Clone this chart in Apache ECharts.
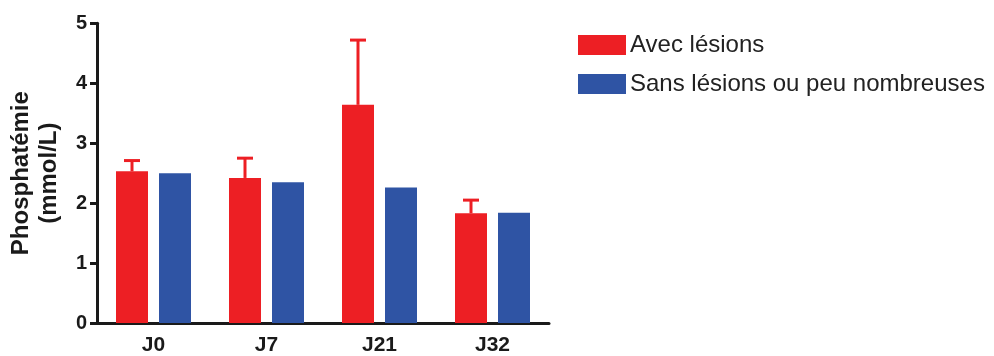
<!DOCTYPE html>
<html>
<head>
<meta charset="utf-8">
<script src="https://cdn.jsdelivr.net/npm/echarts@6/dist/echarts.min.js"></script>
<style>html,body{margin:0;padding:0;background:#fff}#c{width:994px;height:356px}</style>
</head>
<body>
<div id="c"></div>
<script>
const categories = ['J0', 'J7', 'J21', 'J32'];
const seriesNames = ['Avec lésions', 'Sans lésions ou peu nombreuses'];
const avecLesions = [2.53, 2.42, 3.64, 1.83];
const avecLesionsErrTop = [2.71, 2.75, 4.72, 2.05];
const sansLesions = [2.50, 2.35, 2.26, 1.84];
const yTicks = [0, 1, 2, 3, 4, 5];

const RED = '#ED1F24', BLUE = '#2F54A4', AXIS = '#1a1a1a';
const BAR_W = 32, BAR_GAP_PX = 11;
const FONT = '"Liberation Sans", Arial, sans-serif';

const chart = echarts.init(document.getElementById('c'));
chart.setOption({
  animation: false,
  grid: { left: 97, right: 445, top: 23.3, bottom: 32.7, containLabel: false },
  legend: {
    left: 578, top: 33, orient: 'vertical', padding: 0,
    itemWidth: 48, itemHeight: 20, itemGap: 15,
    icon: 'rect',
    textStyle: { fontFamily: FONT, fontSize: 24, lineHeight: 20, color: '#222', padding: [0,0,0,-1] },
    data: seriesNames
  },
  xAxis: {
    type: 'category', data: categories,
    axisLine: { lineStyle: { color: AXIS, width: 3 } },
    axisTick: { alignWithLabel: true, length: 6, lineStyle: { color: AXIS, width: 3 } },
    axisLabel: { fontFamily: FONT, fontWeight: 'bold', fontSize: 21, color: '#1a1a1a', margin: 12 }
  },
  yAxis: {
    type: 'value', min: 0, max: 5, interval: 1,
    name: 'Phosphatémie\n(mmol/L)', nameLocation: 'middle', nameRotate: 90, nameGap: 34,
    nameTextStyle: { fontFamily: FONT, fontWeight: 'bold', fontSize: 24, color: '#1a1a1a', lineHeight: 28 },
    axisLine: { show: true, lineStyle: { color: AXIS, width: 3 } },
    axisTick: { show: true, length: 7, lineStyle: { color: AXIS, width: 3 } },
    splitLine: { show: false },
    axisLabel: {
      fontFamily: FONT, fontWeight: 'bold', fontSize: 20, color: '#1a1a1a', margin: 10,
      formatter: v => yTicks.includes(v) ? String(v) : ''
    }
  },
  series: [
    { name: seriesNames[0], type: 'bar', data: avecLesions, barWidth: BAR_W,
      barGap: (BAR_GAP_PX / BAR_W * 100) + '%', itemStyle: { color: RED }, z: 3 },
    { name: seriesNames[1], type: 'bar', data: sansLesions, barWidth: BAR_W,
      itemStyle: { color: BLUE }, z: 3 },
    { name: 'err', type: 'custom', z: 2,
      data: avecLesions.map((v, i) => [i, v, avecLesionsErrTop[i]]),
      renderItem: function (params, api) {
        const i = api.value(0);
        const base = api.coord([i, api.value(1)]);
        const top = api.coord([i, api.value(2)]);
        const x = base[0] - (BAR_W + BAR_GAP_PX) / 2;
        const cap = 8;
        return { type: 'group', children: [
          { type: 'line', shape: { x1: x, y1: base[1], x2: x, y2: top[1] }, style: { stroke: RED, lineWidth: 3 } },
          { type: 'line', shape: { x1: x - cap, y1: top[1], x2: x + cap, y2: top[1] }, style: { stroke: RED, lineWidth: 3 } }
        ]};
      }
    }
  ]
});
</script>
</body>
</html>
